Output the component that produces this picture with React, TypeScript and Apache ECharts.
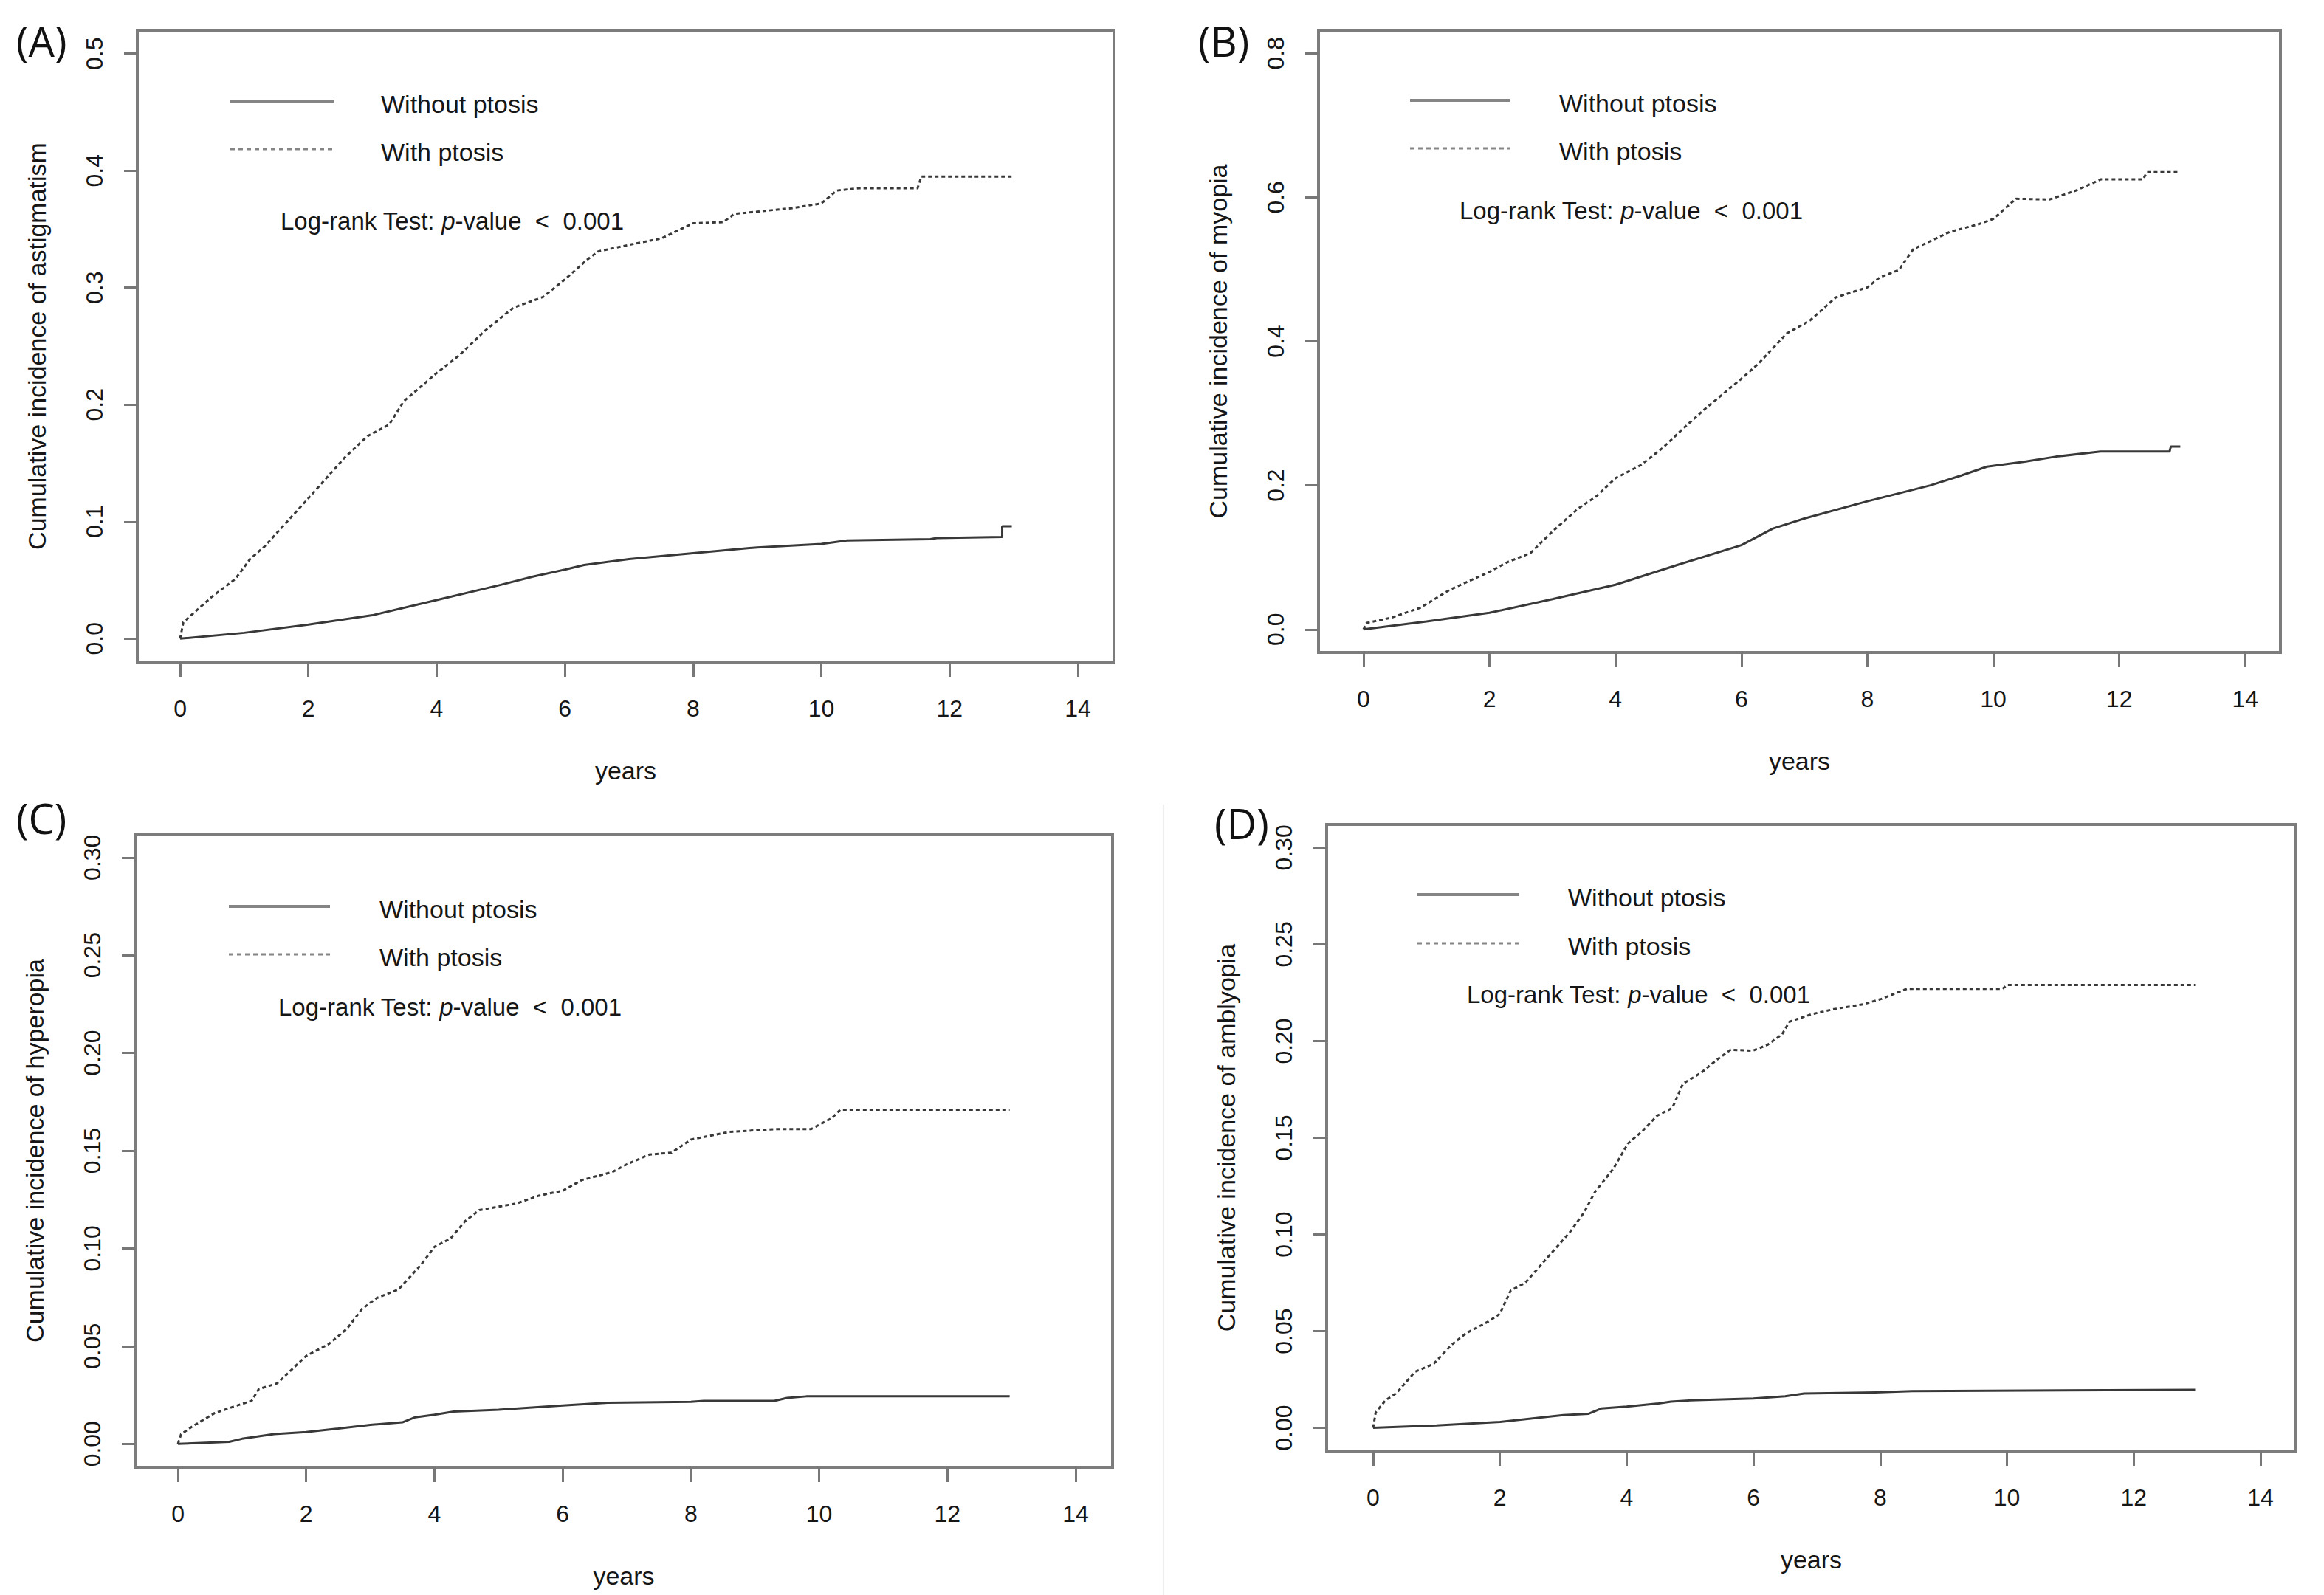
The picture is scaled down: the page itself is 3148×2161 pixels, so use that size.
import React, { useEffect, useRef } from "react";
import * as echarts from "echarts";

const FONT = "'Liberation Sans', Arial, sans-serif";

const X_TICKS = [0, 2, 4, 6, 8, 10, 12, 14];
const Y_TICKS_A = [0, 0.1, 0.2, 0.3, 0.4, 0.5];
const Y_TICKS_B = [0, 0.2, 0.4, 0.6, 0.8];
const Y_TICKS_CD = [0, 0.05, 0.1, 0.15, 0.2, 0.25, 0.3];

const SERIES_NAMES = ["Without ptosis", "With ptosis"];
const Y_TITLES = [
  "Cumulative incidence of astigmatism",
  "Cumulative incidence of myopia",
  "Cumulative incidence of hyperopia",
  "Cumulative incidence of amblyopia",
];
const X_TITLE = "years";
const PANEL_TAGS = ["(A)", "(B)", "(C)", "(D)"];

// (A) astigmatism: [years, cumulative incidence]
const astigWithout: [number, number][] = [
  [0, 0], [1, 0.005], [2, 0.012], [3, 0.02], [4, 0.033], [5, 0.046], [5.5, 0.053],
  [6, 0.059], [6.3, 0.063], [7, 0.068], [8, 0.073], [9, 0.078], [10, 0.081],
  [10.4, 0.084], [11.7, 0.085], [11.8, 0.086], [12.82, 0.087], [12.82, 0.096], [12.97, 0.096],
];
const astigWith: [number, number][] = [
  [0, 0], [0.05, 0.014], [0.5, 0.036], [0.86, 0.051], [1.09, 0.068], [1.32, 0.079],
  [2, 0.12], [2.57, 0.155], [2.92, 0.173], [3.26, 0.183], [3.49, 0.203], [4, 0.227],
  [4.35, 0.242], [4.75, 0.263], [5.2, 0.283], [5.66, 0.292], [6, 0.307], [6.35, 0.324],
  [6.52, 0.331], [7.04, 0.337], [7.5, 0.342], [8, 0.355], [8.47, 0.356], [8.64, 0.363],
  [9.55, 0.368], [10, 0.372], [10.24, 0.383], [10.58, 0.385], [11.5, 0.385], [11.56, 0.395],
  [12.97, 0.395],
];

// (B) myopia
const myopiaWithout: [number, number][] = [
  [0, 0], [1, 0.011], [2, 0.023], [3, 0.042], [4, 0.062], [5, 0.09], [6, 0.117],
  [6.5, 0.14], [7, 0.154], [8, 0.178], [9, 0.2], [9.5, 0.214], [9.9, 0.226],
  [10.5, 0.233], [11, 0.24], [11.7, 0.247], [12.8, 0.247], [12.82, 0.254], [12.97, 0.254],
];
const myopiaWith: [number, number][] = [
  [0, 0], [0.05, 0.009], [0.43, 0.016], [0.9, 0.03], [1.37, 0.055], [2, 0.08],
  [2.3, 0.094], [2.65, 0.106], [3, 0.136], [3.41, 0.168], [3.7, 0.185], [4, 0.21],
  [4.4, 0.228], [4.75, 0.252], [5.1, 0.281], [5.46, 0.309], [6, 0.348], [6.27, 0.369],
  [6.72, 0.411], [7.09, 0.429], [7.5, 0.461], [8, 0.475], [8.2, 0.489], [8.5, 0.499],
  [8.73, 0.528], [9.31, 0.552], [9.78, 0.563], [10, 0.57], [10.36, 0.598], [10.89, 0.597],
  [11.3, 0.609], [11.71, 0.625], [12.38, 0.625], [12.44, 0.635], [12.97, 0.635],
];

// (C) hyperopia
const hyperWithout: [number, number][] = [
  [0, 0], [0.8, 0.001], [1, 0.0026], [1.5, 0.005], [2, 0.006], [2.5, 0.0078], [3, 0.0097],
  [3.5, 0.011], [3.7, 0.0136], [4, 0.0149], [4.3, 0.0165], [5, 0.0175], [6, 0.0196],
  [6.7, 0.021], [8, 0.0215], [8.2, 0.022], [9.3, 0.022], [9.5, 0.0235], [9.8, 0.0243],
  [12.97, 0.0243],
];
const hyperWith: [number, number][] = [
  [0, 0], [0.05, 0.005], [0.23, 0.009], [0.57, 0.0157], [0.92, 0.0196], [1.15, 0.022],
  [1.26, 0.028], [1.55, 0.031], [2, 0.045], [2.35, 0.051], [2.64, 0.059], [2.87, 0.069],
  [3.1, 0.0746], [3.44, 0.079], [3.79, 0.0916], [4, 0.1008], [4.25, 0.105], [4.48, 0.114],
  [4.7, 0.1196], [5.28, 0.123], [5.63, 0.127], [6, 0.1295], [6.3, 0.135], [6.77, 0.139],
  [7, 0.143], [7.35, 0.148], [7.7, 0.149], [8, 0.1557], [8.6, 0.1596], [9.3, 0.161],
  [9.87, 0.161], [10.2, 0.1667], [10.33, 0.171], [12.97, 0.171],
];

// (D) amblyopia
const amblyWithout: [number, number][] = [
  [0, 0], [1, 0.0013], [2, 0.0031], [3, 0.0066], [3.4, 0.0073], [3.6, 0.01], [4, 0.011],
  [4.5, 0.0126], [4.7, 0.0136], [5, 0.0142], [6, 0.0152], [6.5, 0.0163], [6.8, 0.0178],
  [8, 0.0184], [8.5, 0.019], [12.97, 0.0197],
];
const amblyWith: [number, number][] = [
  [0, 0], [0.04, 0.008], [0.2, 0.0144], [0.37, 0.018], [0.66, 0.029], [0.95, 0.033],
  [1.24, 0.043], [1.47, 0.049], [1.82, 0.055], [2, 0.059], [2.17, 0.071], [2.4, 0.075],
  [2.75, 0.088], [3.1, 0.101], [3.33, 0.1115], [3.5, 0.122], [3.79, 0.134], [4.02, 0.147],
  [4.25, 0.1535], [4.48, 0.1614], [4.72, 0.1654], [4.89, 0.178], [5.18, 0.1837],
  [5.41, 0.19], [5.64, 0.1955], [5.99, 0.195], [6.22, 0.198], [6.45, 0.2034], [6.57, 0.21],
  [6.92, 0.2139], [7.27, 0.2165], [7.73, 0.219], [8.02, 0.2218], [8.42, 0.227],
  [9.93, 0.227], [10, 0.229], [12.97, 0.229],
];

const PANELS = [
  {
    grid: { left: 186, top: 41, width: 1323, height: 856 },
    xMin: -0.668, xMax: 14.564, yMin: -0.02, yMax: 0.52, yTicks: Y_TICKS_A, dec: 1,
    without: astigWithout, withP: astigWith,
    tag: { x: 22, y: 55 },
    legend: { x1: 312, x2: 452, y1: 137, y2: 202, tx: 516 },
    pv: { x: 380, y: 299 },
  },
  {
    grid: { left: 1786, top: 41, width: 1303, height: 843 },
    xMin: -0.715, xMax: 14.56, yMin: -0.032, yMax: 0.832, yTicks: Y_TICKS_B, dec: 1,
    without: myopiaWithout, withP: myopiaWith,
    tag: { x: 1623, y: 55 },
    legend: { x1: 1910, x2: 2045, y1: 136, y2: 201, tx: 2112 },
    pv: { x: 1977, y: 285 },
  },
  {
    grid: { left: 183, top: 1130, width: 1324, height: 858 },
    xMin: -0.668, xMax: 14.575, yMin: -0.012, yMax: 0.312, yTicks: Y_TICKS_CD, dec: 2,
    without: hyperWithout, withP: hyperWith,
    tag: { x: 22, y: 1108 },
    legend: { x1: 310, x2: 447, y1: 1228, y2: 1293, tx: 514 },
    pv: { x: 377, y: 1364 },
  },
  {
    grid: { left: 1797, top: 1117, width: 1313, height: 849 },
    xMin: -0.734, xMax: 14.56, yMin: -0.012, yMax: 0.312, yTicks: Y_TICKS_CD, dec: 2,
    without: amblyWithout, withP: amblyWith,
    tag: { x: 1645, y: 1115 },
    legend: { x1: 1920, x2: 2057, y1: 1212, y2: 1278, tx: 2124 },
    pv: { x: 1987, y: 1347 },
  },
];

const TEXT_COLOR = "#161616";
const BOX_COLOR = "#7c7c7c";
const CURVE_COLOR = "#383838";
const DASH = [5, 4];

function buildOption() {
  const grid = PANELS.map((p) => ({
    ...p.grid,
    show: true,
    borderColor: BOX_COLOR,
    borderWidth: 4,
    backgroundColor: "transparent",
    containLabel: false,
  }));
  const xAxis = PANELS.map((p, i) => ({
    type: "value",
    gridIndex: i,
    position: "bottom",
    min: p.xMin,
    max: p.xMax,
    axisLine: { show: false, onZero: false },
    splitLine: { show: false },
    axisTick: {
      show: true,
      inside: false,
      customValues: X_TICKS,
      length: 20,
      lineStyle: { color: "#777", width: 3 },
    },
    axisLabel: {
      show: true,
      customValues: X_TICKS,
      margin: 47,
      fontSize: 32,
      color: TEXT_COLOR,
      fontFamily: FONT,
      formatter: (v: number) => String(v),
    },
    name: X_TITLE,
    nameLocation: "middle",
    nameGap: 130,
    nameTextStyle: { fontSize: 34, color: TEXT_COLOR, fontFamily: FONT },
  }));
  const yAxis = PANELS.map((p, i) => ({
    type: "value",
    gridIndex: i,
    position: "left",
    min: p.yMin,
    max: p.yMax,
    axisLine: { show: false, onZero: false },
    splitLine: { show: false },
    axisTick: {
      show: true,
      inside: false,
      customValues: p.yTicks,
      length: 18,
      lineStyle: { color: "#777", width: 3 },
    },
    axisLabel: {
      show: true,
      customValues: p.yTicks,
      rotate: 90,
      margin: 42,
      fontSize: 32,
      color: TEXT_COLOR,
      fontFamily: FONT,
      formatter: (v: number) => v.toFixed(p.dec),
    },
    name: Y_TITLES[i],
    nameLocation: "middle",
    nameGap: 119,
    nameTextStyle: { fontSize: 34, color: TEXT_COLOR, fontFamily: FONT },
  }));
  const series: any[] = [];
  PANELS.forEach((p, i) => {
    series.push({
      type: "line",
      name: SERIES_NAMES[0],
      xAxisIndex: i,
      yAxisIndex: i,
      data: p.without,
      showSymbol: false,
      symbol: "none",
      silent: true,
      lineStyle: { color: CURVE_COLOR, width: 3, type: "solid" },
    });
    series.push({
      type: "line",
      name: SERIES_NAMES[1],
      xAxisIndex: i,
      yAxisIndex: i,
      data: p.withP,
      showSymbol: false,
      symbol: "none",
      silent: true,
      lineStyle: { color: CURVE_COLOR, width: 3, type: DASH },
    });
  });

  const graphic: any[] = [];
  graphic.push({
    type: "line",
    shape: { x1: 1576, y1: 1090, x2: 1576, y2: 2161 },
    style: { stroke: "#eeeeee", lineWidth: 2 },
    silent: true,
  });
  PANELS.forEach((p, i) => {
    graphic.push({
      type: "text",
      x: p.tag.x,
      y: p.tag.y,
      style: {
        text: PANEL_TAGS[i],
        fontSize: 56,
        fontFamily: "'Open Sans', 'Noto Sans', sans-serif",
        fill: "#111",
        align: "left",
        verticalAlign: "middle",
      },
      silent: true,
    });
    const L = p.legend;
    graphic.push({
      type: "line",
      shape: { x1: L.x1, y1: L.y1, x2: L.x2, y2: L.y1 },
      style: { stroke: "#858585", lineWidth: 4 },
      silent: true,
    });
    graphic.push({
      type: "line",
      shape: { x1: L.x1, y1: L.y2, x2: L.x2, y2: L.y2 },
      style: { stroke: "#858585", lineWidth: 3, lineDash: [6, 5] },
      silent: true,
    });
    SERIES_NAMES.forEach((name, k) => {
      graphic.push({
        type: "text",
        x: L.tx,
        y: (k === 0 ? L.y1 : L.y2) + 4,
        style: {
          text: name,
          fontSize: 34,
          fontFamily: FONT,
          fill: TEXT_COLOR,
          align: "left",
          verticalAlign: "middle",
        },
        silent: true,
      });
    });
    graphic.push({
      type: "text",
      x: p.pv.x,
      y: p.pv.y,
      style: {
        text: "Log-rank Test: {i|p}-value  <  0.001",
        fontSize: 33,
        fontFamily: FONT,
        fill: TEXT_COLOR,
        align: "left",
        verticalAlign: "middle",
        rich: {
          i: { fontSize: 33, fontFamily: FONT, fontStyle: "italic", fill: TEXT_COLOR },
        },
      },
      silent: true,
    });
  });

  return {
    animation: false,
    backgroundColor: "#ffffff",
    grid,
    xAxis,
    yAxis,
    series,
    graphic,
  };
}

export default function App() {
  const ref = useRef<HTMLDivElement>(null);
  useEffect(() => {
    if (!ref.current) return;
    const chart = echarts.init(ref.current, undefined, { renderer: "svg" });
    chart.setOption(buildOption() as any);
    return () => chart.dispose();
  }, []);
  return (
    <div
      ref={ref}
      style={{ position: "absolute", left: 0, top: 0, width: "3148px", height: "2161px" }}
    />
  );
}
